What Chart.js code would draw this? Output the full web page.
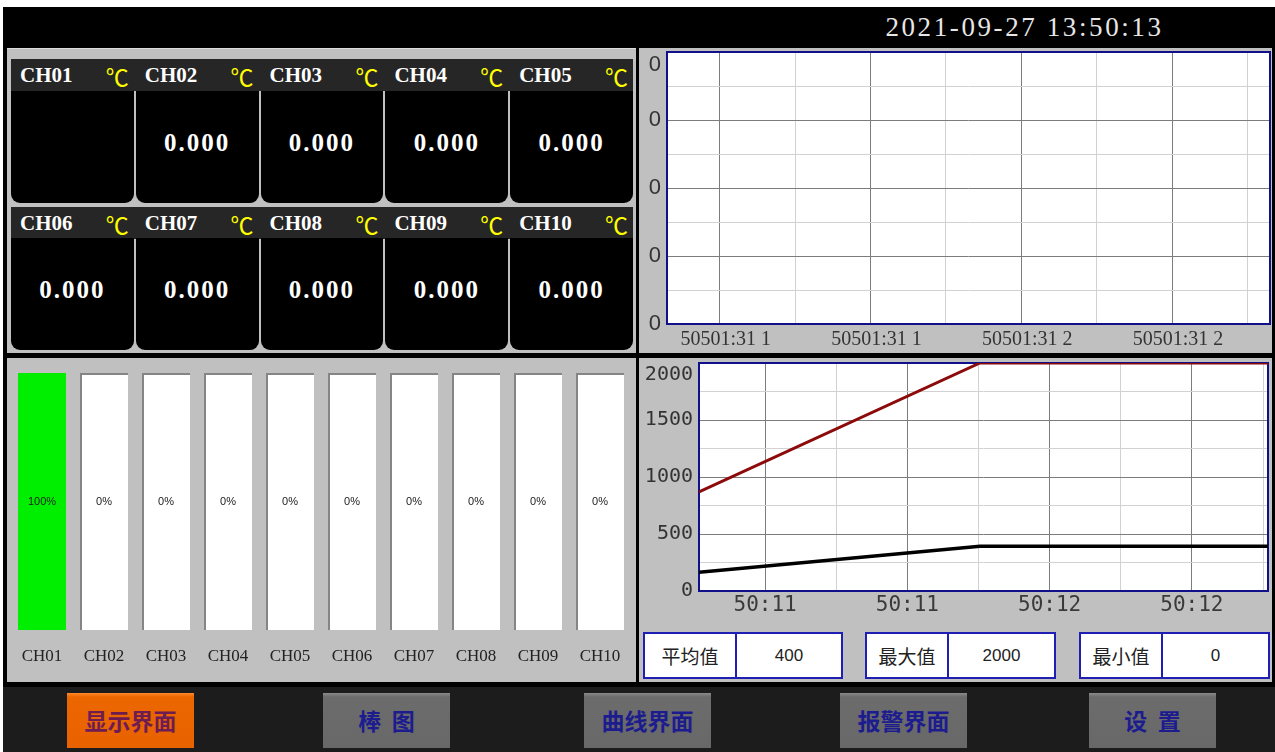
<!DOCTYPE html>
<html lang="zh">
<head>
<meta charset="utf-8">
<title>温度巡检 显示界面</title>
<script src="https://cdn.jsdelivr.net/npm/chart.js@4.4.0/dist/chart.umd.min.js"></script>
<style>
  html, body { margin: 0; padding: 0; background: #fff; }
  body { width: 1275px; height: 752px; position: relative; overflow: hidden; font-family: "Liberation Sans", sans-serif; }
  .abs { position: absolute; }
  .frame { left: 3px; top: 7px; width: 1272px; height: 745px; background: #000; }
  .clock { left: 862px; top: 11px; width: 325px; height: 32px; text-align: center;
           color: #e6e6e6; font: 27px/32px "Liberation Serif", serif; letter-spacing: 2.6px; }
  .panel { background: #c0c0c0; }
  #pTL { left: 7px; top: 48px; width: 629px; height: 305px; border-top: 1px solid #dcdcdc; box-sizing: border-box; }
  #pTR { left: 639px; top: 48px; width: 633px; height: 305px; }
  #pBL { left: 7px; top: 358px; width: 629px; height: 324px; }
  #pBR { left: 639px; top: 358px; width: 633px; height: 324px; }

  .hdr { left: 11px; width: 622px; height: 32px; background: #262626; display: grid;
         grid-template-columns: repeat(5, 1fr); column-gap: 2px; }
  .hdr div { position: relative; }
  .hdr .nm { position: absolute; left: 9px; top: 0; color: #fff;
             font: bold 21px/32px "Liberation Serif", serif; }
  .hdr .un { position: absolute; right: 5px; top: 1px; color: #ffff00;
             font: 23px/32px "Noto Sans CJK SC", sans-serif; }
  .body { left: 11px; width: 622px; height: 112px; display: grid;
          grid-template-columns: repeat(5, 1fr); column-gap: 2px; }
  .body div { background: #000; border-radius: 0 0 9px 9px; color: #fff; text-align: center;
              font: bold 25px/104px "Liberation Serif", serif; letter-spacing: 2px; }

  canvas { position: absolute; }
  #barCv { left: 7px; top: 358px; }
  #topCv { left: 639px; top: 48px; }
  #trendCv { left: 639px; top: 358px; }

  .stat { top: 632px; height: 47px; display: flex; }
  .stat div { box-sizing: border-box; height: 47px; background: #fff; border: 2px solid #1f1fb4;
              text-align: center; color: #222; }
  .stat .lb { font: 19px/43px "Noto Sans CJK SC", sans-serif; }
  .stat .vl { border-left: none; font: 17px/43px "Liberation Sans", sans-serif; }
  #s0 { left: 643px; } #s0 .lb { width: 94px; } #s0 .vl { width: 106px; }
  #s1 { left: 865px; } #s1 .lb { width: 84px; } #s1 .vl { width: 107px; }
  #s2 { left: 1079px; } #s2 .lb { width: 84px; } #s2 .vl { width: 107px; }

  .nav { left: 3px; top: 687px; width: 1272px; height: 65px; background: #1c1c1c; }
  .btn { top: 693px; width: 127px; height: 55px; text-align: center;
         background: linear-gradient(#8a8a8a 0, #6c6c6c 4px, #686868 100%);
         color: #1c1c8e; font: bold 23px/55px "Noto Sans CJK SC", sans-serif; white-space: pre; }
  .btn.on { background: linear-gradient(#ff8a2a 0, #ec6600 4px, #e86200 100%); color: #6e1c52; }
</style>
</head>
<body>
<div class="abs frame"></div>
<div class="abs clock" id="clock"></div>

<div class="abs panel" id="pTL"></div>
<div class="abs panel" id="pTR"></div>
<div class="abs panel" id="pBL"></div>
<div class="abs panel" id="pBR"></div>

<div id="tiles"></div>

<canvas id="barCv" width="629" height="324"></canvas>
<canvas id="topCv" width="633" height="305"></canvas>
<canvas id="trendCv" width="633" height="272"></canvas>

<div id="stats"></div>
<div class="abs nav"></div>
<div id="navBtns"></div>

<script>
/* ─── data ─────────────────────────────────────────────────────────────── */
const clockText = '2021-09-27 13:50:13';
const channelNames = ['CH01', 'CH02', 'CH03', 'CH04', 'CH05', 'CH06', 'CH07', 'CH08', 'CH09', 'CH10'];
const channelUnit = '℃';
const channelReadings = ['', '0.000', '0.000', '0.000', '0.000', '0.000', '0.000', '0.000', '0.000', '0.000'];

const barPercent   = [100, 0, 0, 0, 0, 0, 0, 0, 0, 0];
const barFullScale = [100, 100, 100, 100, 100, 100, 100, 100, 100, 100];

// top-right trend: empty, y labels all read "0"
const topTimeLabels = ['50501:31 1', '50501:31 1', '50501:31 2', '50501:31 2'];
const topYLabel = '0';

// bottom-right trend
const trendTimeLabels = ['50:11', '50:11', '50:12', '50:12'];
const trendX     = [0, 3.95, 8];
const trendUpper = [870, 2000, 2000];
const trendLower = [165, 392, 392];

const statLabels = ['平均值', '最大值', '最小值'];
const statValues = ['400', '2000', '0'];

const navLabels = ['显示界面', '棒  图', '曲线界面', '报警界面', '设  置'];

/* ─── static screen parts ──────────────────────────────────────────────── */
document.getElementById('clock').textContent = clockText;

const tiles = document.getElementById('tiles');
const rowTops = [[59, 91], [207, 238]];
rowTops.forEach(([hTop, bTop], r) => {
  const hdr = document.createElement('div');
  hdr.className = 'abs hdr';
  hdr.style.top = hTop + 'px';
  const body = document.createElement('div');
  body.className = 'abs body';
  body.style.top = bTop + 'px';
  for (let c = 0; c < 5; c++) {
    const i = r * 5 + c;
    const h = document.createElement('div');
    h.innerHTML = `<span class="nm">${channelNames[i]}</span><span class="un">${channelUnit}</span>`;
    hdr.appendChild(h);
    const b = document.createElement('div');
    b.textContent = channelReadings[i];
    body.appendChild(b);
  }
  tiles.appendChild(hdr);
  tiles.appendChild(body);
});

const stats = document.getElementById('stats');
statLabels.forEach((lb, i) => {
  const d = document.createElement('div');
  d.className = 'abs stat';
  d.id = 's' + i;
  d.innerHTML = `<div class="lb">${lb}</div><div class="vl">${statValues[i]}</div>`;
  stats.appendChild(d);
});

const navLeft = [67, 323, 584, 840, 1089];
const navBtns = document.getElementById('navBtns');
navLabels.forEach((t, i) => {
  const b = document.createElement('div');
  b.className = 'abs btn' + (i === 0 ? ' on' : '');
  b.style.left = navLeft[i] + 'px';
  b.textContent = t;
  navBtns.appendChild(b);
});

/* ─── charts ───────────────────────────────────────────────────────────── */
Chart.defaults.font.family = '"Liberation Sans", sans-serif';

const quiet = {
  responsive: false, animation: false, events: [],
  plugins: { legend: { display: false }, tooltip: { enabled: false } },
};

// fixed axis size, and no extra room reserved for overhanging end labels
const fixSize = (w, h) => s => {
  if (w != null) s.width = w;
  if (h != null) s.height = h;
  s.paddingTop = s.paddingBottom = s.paddingLeft = s.paddingRight = 0;
};

// white plot area + navy frame, frame sits under the lines
const plotFrame = {
  id: 'plotFrame',
  beforeDraw(chart) {
    const a = chart.chartArea, c = chart.ctx;
    c.save();
    c.fillStyle = '#fff';
    c.fillRect(a.left, a.top, a.right - a.left, a.bottom - a.top);
    c.restore();
  },
  beforeDatasetsDraw(chart) {
    const a = chart.chartArea, c = chart.ctx;
    c.save();
    c.strokeStyle = '#10108a';
    c.lineWidth = 2;
    c.strokeRect(a.left, a.top, a.right - a.left, a.bottom - a.top);
    c.restore();
  },
};

// percentage text in the middle of each bar column
const barText = {
  id: 'barText',
  afterDatasetsDraw(chart) {
    const meta = chart.getDatasetMeta(1), c = chart.ctx;
    c.save();
    c.font = '11px "Liberation Sans", sans-serif';
    c.fillStyle = '#222';
    c.textAlign = 'center';
    c.textBaseline = 'middle';
    meta.data.forEach((el, i) => c.fillText(barPercent[i] + '%', el.x, (el.y + el.base) / 2));
    c.restore();
  },
};

new Chart(document.getElementById('barCv'), {
  type: 'bar',
  data: {
    labels: channelNames,
    datasets: [
      { data: barPercent, backgroundColor: '#00ee00', borderWidth: 0, grouped: false,
        categoryPercentage: 1, barPercentage: 0.774 },
      { data: barFullScale, backgroundColor: '#fff', borderColor: '#858585', borderSkipped: false,
        borderWidth: { left: 2, top: 2, right: 0, bottom: 0 }, grouped: false,
        categoryPercentage: 1, barPercentage: 0.774 },
    ],
  },
  options: {
    ...quiet,
    layout: { padding: { left: 4, right: 5, top: 15, bottom: 0 } },
    scales: {
      x: {
        grid: { display: false, drawTicks: false }, border: { display: false },
        ticks: { color: '#222', padding: 16, font: { size: 17, family: '"Liberation Serif", serif' } },
        afterFit: fixSize(null, 52),
      },
      y: { display: false, min: 0, max: 100 },
    },
  },
  plugins: [barText],
});

const gridDark = '#7c7c7c', gridLight = '#d2d2d2';

new Chart(document.getElementById('topCv'), {
  type: 'line',
  data: { datasets: [{ data: [] }] },
  options: {
    ...quiet,
    layout: { padding: { left: 0, right: 2, top: 4, bottom: 0 } },
    scales: {
      x: {
        type: 'linear', min: 0, max: 8,
        afterBuildTicks: s => { s.ticks = Array.from({ length: 8 }, (_, i) => ({ value: 0.7 + i })); },
        grid: { color: ctx => (ctx.index % 2 === 0 ? gridDark : gridLight), drawTicks: false },
        border: { display: false },
        ticks: {
          autoSkip: false, maxRotation: 0, padding: 4, labelOffset: 6, color: '#333',
          font: { size: 20, family: '"Liberation Serif", serif' },
          callback: (v, i) => (i % 2 === 0 ? topTimeLabels[i / 2] : ''),
        },
        afterFit: fixSize(null, 29),
      },
      y: {
        min: 0, max: 8,
        ticks: {
          autoSkip: false, stepSize: 1, padding: 6, color: '#333', font: { size: 22 },
          callback: v => (v === 8 ? ['', topYLabel] : v % 2 === 0 ? topYLabel : ''),
        },
        grid: { color: ctx => (ctx.tick.value % 2 === 0 ? gridDark : gridLight), drawTicks: false },
        border: { display: false },
        afterFit: fixSize(28, null),
      },
    },
  },
  plugins: [plotFrame],
});

new Chart(document.getElementById('trendCv'), {
  type: 'line',
  data: {
    datasets: [
      { data: trendX.map((x, i) => ({ x, y: trendUpper[i] })), borderColor: '#8c0a0a', borderWidth: 3,
        pointRadius: 0, tension: 0 },
      { data: trendX.map((x, i) => ({ x, y: trendLower[i] })), borderColor: '#000', borderWidth: 3.5,
        pointRadius: 0, tension: 0 },
    ],
  },
  options: {
    ...quiet,
    layout: { padding: { left: 0, right: 4, top: 5, bottom: 0 } },
    scales: {
      x: {
        type: 'linear', min: 0, max: 8,
        afterBuildTicks: s => { s.ticks = Array.from({ length: 8 }, (_, i) => ({ value: 0.93 + i })); },
        grid: { color: ctx => (ctx.index % 2 === 0 ? gridDark : gridLight), drawTicks: false },
        border: { display: false },
        ticks: {
          autoSkip: false, maxRotation: 0, padding: 2, color: '#3a3a3a',
          font: { size: 21, family: '"DejaVu Sans Mono", monospace' },
          callback: (v, i) => (i % 2 === 0 ? trendTimeLabels[i / 2] : ''),
        },
        afterFit: fixSize(null, 39),
      },
      y: {
        min: 0, max: 2000,
        ticks: {
          autoSkip: false, stepSize: 250, padding: 6, color: '#333',
          font: { size: 20, family: '"DejaVu Sans Mono", monospace' },
          callback: v => (v === 2000 ? ['', String(v)] : v % 500 === 0 ? String(v) : ''),
        },
        grid: { color: ctx => (ctx.tick.value % 500 === 0 ? gridDark : gridLight), drawTicks: false },
        border: { display: false },
        afterFit: fixSize(60, null),
      },
    },
  },
  plugins: [plotFrame],
});
</script>
</body>
</html>
